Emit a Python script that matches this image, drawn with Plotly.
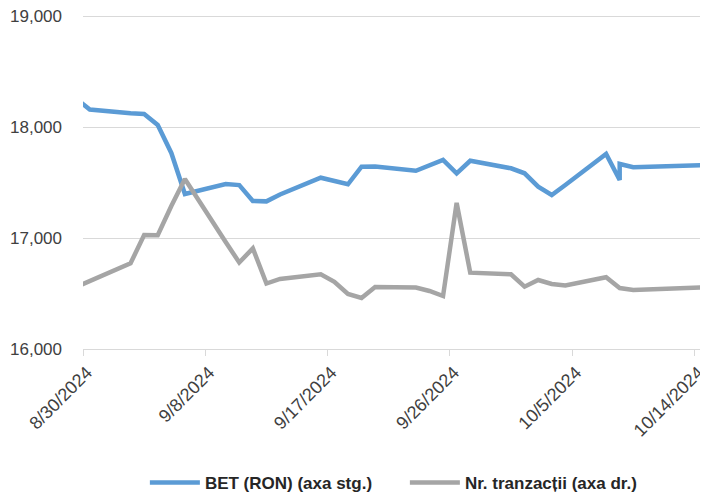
import pandas as pd
import plotly.graph_objects as go

# Trading dates (10/8 appears twice in the source data)
dates = ["2024-08-29", "2024-08-30", "2024-09-02", "2024-09-03", "2024-09-04",
         "2024-09-05", "2024-09-06", "2024-09-09", "2024-09-10", "2024-09-11",
         "2024-09-12", "2024-09-13", "2024-09-16", "2024-09-17", "2024-09-18",
         "2024-09-19", "2024-09-20", "2024-09-23", "2024-09-24", "2024-09-25",
         "2024-09-26", "2024-09-27", "2024-09-30", "2024-10-01", "2024-10-02",
         "2024-10-03", "2024-10-04", "2024-10-07", "2024-10-08", "2024-10-08",
         "2024-10-09", "2024-10-15"]

bet_ron = [18255, 18158, 18123, 18118, 18018,
           17766, 17396, 17486, 17477, 17333,
           17330, 17392, 17543, 17515, 17484,
           17642, 17644, 17606, 17653, 17703,
           17583, 17696, 17628, 17583, 17462,
           17387, 17477, 17757, 17523, 17667,
           17637, 17659]

nr_tranzactii = [6520, 7150, 9010, 11980, 11950,
                 15030, 17870, 11250, 9090, 10580,
                 6880, 7360, 7850, 7070, 5780,
                 5360, 6520, 6460, 6100, 5570,
                 15350, 8020, 7850, 6550, 7250,
                 6830, 6670, 7540, 6520, 6410,
                 6200, 6520]

y_ticks = [16000, 17000, 18000, 19000]
x_ticks = ["2024-08-30", "2024-09-08", "2024-09-17", "2024-09-26", "2024-10-05", "2024-10-14"]
x_tick_labels = ["8/30/2024", "9/8/2024", "9/17/2024", "9/26/2024", "10/5/2024", "10/14/2024"]

# points sit in the middle of each day slot (date axis "between tick marks")
x_vals = pd.to_datetime(dates) + pd.Timedelta(hours=12)

fig = go.Figure()
fig.add_trace(go.Scatter(
    x=x_vals, y=bet_ron, mode="lines", name="BET (RON) (axa stg.)",
    line=dict(color="#5B9BD5", width=4.5), yaxis="y", legend="legend"))
fig.add_trace(go.Scatter(
    x=x_vals, y=nr_tranzactii, mode="lines", name="Nr. tranzacții (axa dr.)",
    line=dict(color="#A5A5A5", width=4.5), yaxis="y2", legend="legend2"))

font_family = "Liberation Sans, Arial, sans-serif"
legend_font = dict(size=17, color="#262626", family=font_family, weight="bold")

# the page body keeps an 8px margin, so the figure is 700x491
fig.update_layout(
    width=700, height=491,
    margin=dict(l=75, r=0, t=6, b=150, autoexpand=False),
    paper_bgcolor="white", plot_bgcolor="white",
    font=dict(family=font_family, size=17, color="#404040"),
    xaxis=dict(
        type="date",
        range=["2024-08-30", "2024-10-15"],
        tickmode="array",
        tickvals=pd.to_datetime(x_ticks),
        ticktext=x_tick_labels,
        tickangle=-45,
        ticks="",
        ticklabelstandoff=5, ticklabelshift=4,
        ticklabeloverflow="allow",
        minor=dict(ticks="outside", ticklen=6, tickcolor="#D9D9D9",
                   tick0="2024-08-30", dtick=9 * 86400000, showgrid=False),
        showline=True, linecolor="#D9D9D9", linewidth=1,
        showgrid=False, zeroline=False, automargin=False,
        tickfont=dict(size=18, color="#404040"),
    ),
    yaxis=dict(
        range=[16000, 19018],
        tickmode="array", tickvals=y_ticks,
        tickformat=",d",
        showgrid=True, gridcolor="#D9D9D9", gridwidth=1,
        zeroline=False, showline=False, ticks="",
        ticklabelstandoff=20, automargin=False,
        ticklabeloverflow="allow",
        tickfont=dict(size=17, color="#404040"),
    ),
    yaxis2=dict(
        range=[0, 35210], overlaying="y", side="right",
        visible=False, showgrid=False,
    ),
    showlegend=True,
    legend=dict(
        orientation="h", x=0.099, xanchor="left",
        y=-0.40, yanchor="middle",
        font=legend_font, itemwidth=50,
        bgcolor="rgba(0,0,0,0)",
    ),
    legend2=dict(
        orientation="h", x=0.515, xanchor="left",
        y=-0.40, yanchor="middle",
        font=legend_font, itemwidth=50,
        bgcolor="rgba(0,0,0,0)",
    ),
)

fig.write_html("out.html")
